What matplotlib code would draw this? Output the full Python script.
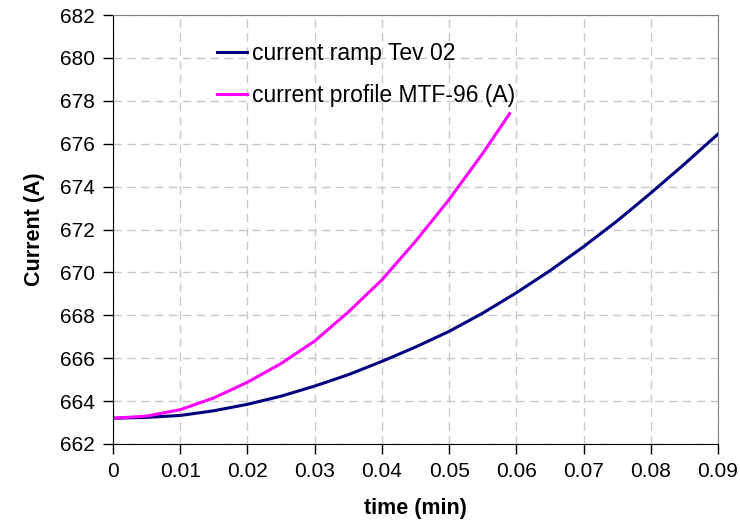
import numpy as np
import matplotlib.pyplot as plt

plt.rcParams['font.family'] = ['Liberation Sans', 'DejaVu Sans']

# values
time_ramp = [0, 0.005, 0.01, 0.015, 0.02, 0.025, 0.03, 0.035, 0.04, 0.045,
             0.05, 0.055, 0.06, 0.065, 0.07, 0.075, 0.08, 0.085, 0.09]
current_ramp = [663.2, 663.24, 663.33, 663.55, 663.85, 664.23, 664.7, 665.23,
                665.85, 666.52, 667.25, 668.1, 669.05, 670.08, 671.2, 672.4,
                673.7, 675.05, 676.45]

time_mtf = [0, 0.005, 0.01, 0.015, 0.02, 0.025, 0.03, 0.035, 0.04, 0.045,
            0.05, 0.055, 0.059]
current_mtf = [663.2, 663.3, 663.6, 664.15, 664.88, 665.75, 666.8, 668.15,
               669.65, 671.45, 673.4, 675.55, 677.4]

x_ticks = [0, 0.01, 0.02, 0.03, 0.04, 0.05, 0.06, 0.07, 0.08, 0.09]
x_tick_labels = ['0', '0.01', '0.02', '0.03', '0.04', '0.05', '0.06', '0.07', '0.08', '0.09']
y_ticks = list(range(662, 683, 2))

fig = plt.figure(figsize=(7.4, 5.21), dpi=100)
ax = fig.add_axes([0.1527, 0.1478, 0.8176, 0.8234])

ax.plot(time_ramp, current_ramp, color='#000080', lw=2.2, label='current ramp Tev 02',
        solid_joinstyle='round')
ax.plot(time_mtf, current_mtf, color='#ff00ff', lw=2.2, label='current profile MTF-96 (A)',
        solid_joinstyle='round')

ax.set_xlim(0, 0.09)
ax.set_ylim(662, 682)
ax.set_xticks(x_ticks)
ax.set_xticklabels(x_tick_labels)
ax.set_yticks(y_ticks)

ax.grid(True, color='#c8c8c8', linestyle=(0, (6, 4)), lw=1)
ax.set_axisbelow(True)

for side in ['top', 'right']:
    ax.spines[side].set_color('#808080')
for side in ['left', 'bottom']:
    ax.spines[side].set_color('black')

ax.tick_params(direction='out', length=7, width=1, labelsize=15, pad=6)

ax.set_xlabel('time (min)', fontsize=15.5, fontweight='bold', labelpad=12)
ax.set_ylabel('Current (A)', fontsize=15.5, fontweight='bold', labelpad=10.5)

ax.legend(loc='upper left', bbox_to_anchor=(0.157, 0.959), borderaxespad=0,
          frameon=False, fontsize=16.5, handlelength=1.31, handletextpad=0.22,
          labelspacing=0.85)

fig.savefig('out.png', dpi=100)
